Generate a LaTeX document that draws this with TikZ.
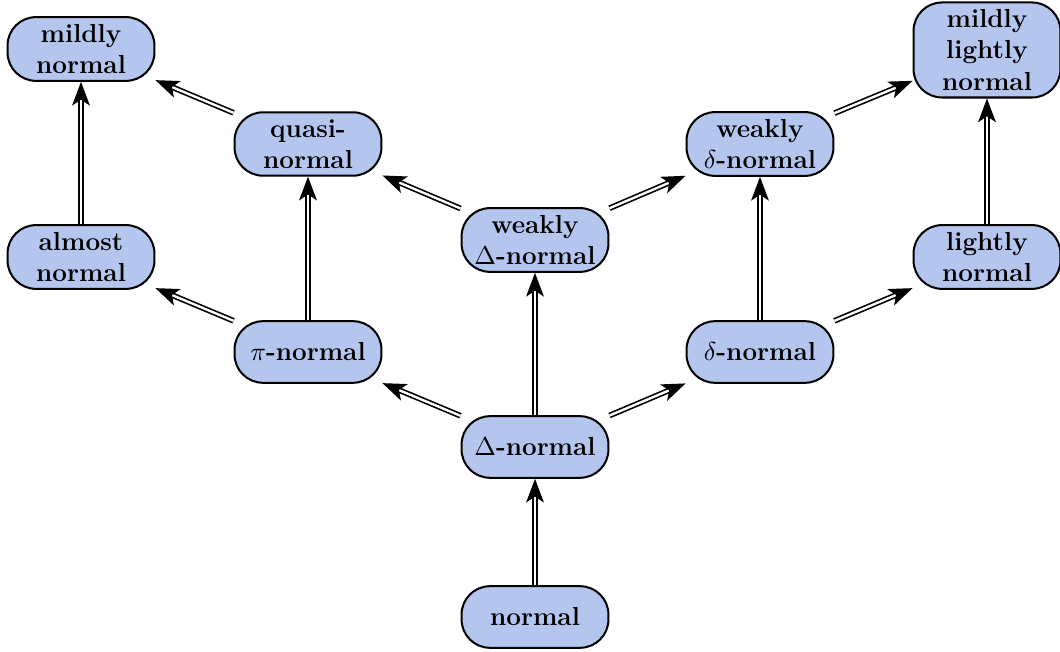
\documentclass[tikz,border=0pt]{standalone}
\usetikzlibrary{arrows.meta}
\definecolor{nodefill}{RGB}{180,198,238}
\tikzset{
  box/.style={draw, line width=0.85pt, fill=nodefill, rounded corners=12pt,
    minimum width=62pt, minimum height=26pt, align=center, inner sep=3pt,
    font=\fontsize{11}{13.2}\selectfont\bfseries},
  impl/.style={draw, line width=0.7pt, double, double distance=1pt,
    -{Stealth[length=10pt,width=7.5pt,inset=2.5pt]}}
}
\begin{document}
\begin{tikzpicture}[x=0.422pt,y=-0.422pt]
\useasboundingbox (0,0) rectangle (1060,652);
\node[box] (n) at (535,617) {normal};
\node[box] (dn) at (535,447) {$\Delta$-normal};
\node[box] (wdn) at (535,240) {weakly\\$\Delta$-normal};
\node[box] (pin) at (308,352) {$\pi$-normal};
\node[box] (deln) at (760,352) {$\delta$-normal};
\node[box] (qn) at (308,144) {quasi-\\normal};
\node[box] (wdeln) at (760,144) {weakly\\$\delta$-normal};
\node[box] (an) at (81,257) {almost\\normal};
\node[box] (ln) at (987,257) {lightly\\normal};
\node[box] (mn) at (81,49) {mildly\\normal};
\node[box] (mln) at (987,50) {mildly\\lightly\\normal};
\draw[impl] (n) -- (dn);
\draw[impl] (dn) -- (wdn);
\draw[impl] (dn) -- (pin);
\draw[impl] (dn) -- (deln);
\draw[impl] (pin) -- (qn);
\draw[impl] (pin) -- (an);
\draw[impl] (deln) -- (wdeln);
\draw[impl] (deln) -- (ln);
\draw[impl] (wdn) -- (qn);
\draw[impl] (wdn) -- (wdeln);
\draw[impl] (qn) -- (mn);
\draw[impl] (an) -- (mn);
\draw[impl] (wdeln) -- (mln);
\draw[impl] (ln) -- (mln);
\end{tikzpicture}
\end{document}
